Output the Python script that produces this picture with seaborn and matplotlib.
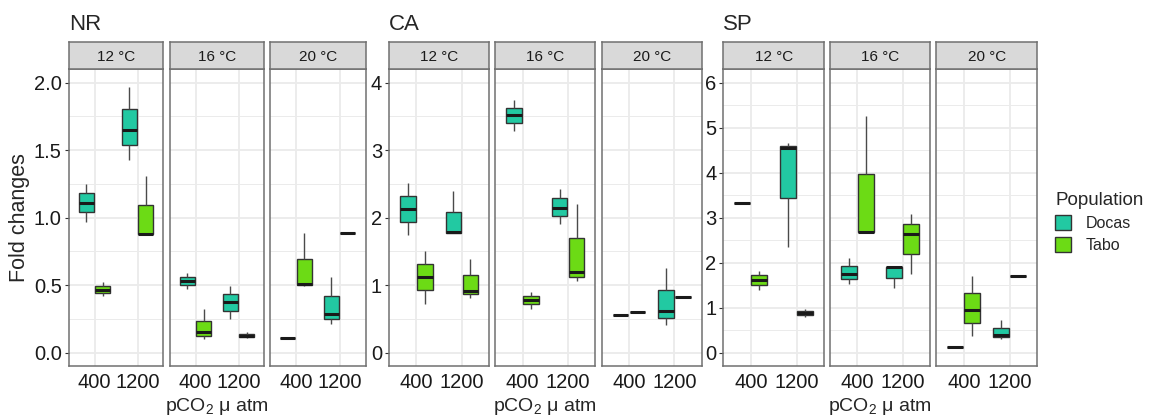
import numpy as np
import pandas as pd
import seaborn as sns
import matplotlib
matplotlib.use("Agg")
import matplotlib.pyplot as plt
from matplotlib.patches import Patch
from matplotlib.ticker import FixedLocator, MultipleLocator

# ---------------- data ----------------
sites = ["NR", "CA", "SP"]
temps = ["12 °C", "16 °C", "20 °C"]
pco2_levels = ["400", "1200"]
populations = ["Docas", "Tabo"]
# replicates per group, order: 12-400, 12-1200, 16-400, 16-1200, 20-400, 20-1200
NR_docas = [[0.97, 1.11, 1.25], [1.43, 1.65, 1.965], [0.47, 0.53, 0.59],
            [0.25, 0.373, 0.494], [0.11, 0.11, 0.11], [0.215, 0.284, 0.56]]
NR_tabo = [[0.42, 0.467, 0.52], [0.877, 0.877, 1.31], [0.10, 0.151, 0.32],
           [0.11, 0.125, 0.15], [0.49, 0.51, 0.884], [0.889, 0.889, 0.889]]
CA_docas = [[1.75, 2.13, 2.52], [1.77, 1.78, 2.39], [3.28, 3.515, 3.745],
            [1.90, 2.138, 2.43], [0.563, 0.563, 0.563], [0.405, 0.612, 1.254]]
CA_tabo = [[0.726, 1.12, 1.51], [0.815, 0.909, 1.383], [0.647, 0.785, 0.894],
           [1.062, 1.19, 2.2], [0.607, 0.607, 0.607], [0.83, 0.83, 0.83]]
SP_docas = [[3.318, 3.318, 3.318], [2.35, 4.54, 4.65], [1.53, 1.76, 2.106],
            [1.44, 1.90, 1.92], [0.118, 0.118, 0.118], [0.31, 0.384, 0.724]]
SP_tabo = [[1.397, 1.61, 1.825], [0.80, 0.89, 0.975], [2.66, 2.683, 5.255],
           [1.76, 2.646, 3.08], [0.37, 0.96, 1.707], [1.70, 1.70, 1.70]]

NR_ticks = [0.0, 0.5, 1.0, 1.5, 2.0]
NR_ticklabels = ["0.0", "0.5", "1.0", "1.5", "2.0"]
CA_ticks = [0, 1, 2, 3, 4]
CA_ticklabels = ["0", "1", "2", "3", "4"]
SP_ticks = [0, 1, 2, 3, 4, 5, 6]
SP_ticklabels = ["0", "1", "2", "3", "4", "5", "6"]

site_data = {"NR": (NR_docas, NR_tabo), "CA": (CA_docas, CA_tabo), "SP": (SP_docas, SP_tabo)}
site_ticks = {"NR": (NR_ticks, NR_ticklabels), "CA": (CA_ticks, CA_ticklabels),
              "SP": (SP_ticks, SP_ticklabels)}

rows = []
for s in sites:
    for pop, groups in zip(populations, site_data[s]):
        k = 0
        for t in temps:
            for p in pco2_levels:
                for v in groups[k]:
                    rows.append(dict(site=s, temp=t, pco2=p, pop=pop, value=v))
                k += 1
df = pd.DataFrame(rows)

# ---------------- style ----------------
sns.set_style("white")
plt.rcParams["font.family"] = ["Liberation Sans", "DejaVu Sans"]
plt.rcParams["mathtext.fontset"] = "custom"
plt.rcParams["mathtext.rm"] = "Liberation Sans"

W, H = 1158, 418
fig = plt.figure(figsize=(W / 100, H / 100), dpi=100)
fig.patch.set_facecolor("white")

palette = {"Docas": "#22C9A2", "Tabo": "#6CDB15"}
border = "#707070"
gridc = "#EBEBEB"
tick_fs = 14.5

panel_x = {
    "NR": [(68.7, 163.3), (169.7, 264.3), (270.0, 365.7)],
    "CA": [(389.0, 489.3), (495.3, 595.3), (601.7, 701.7)],
    "SP": [(723.3, 824.0), (830.0, 930.0), (936.3, 1037.0)],
}
ylims = {"NR": (-0.099, 2.099), "CA": (-0.198, 4.198), "SP": (-0.295, 6.297)}
ptop, pbot = 69.3, 366.0
stop_ = 42.3


def frac(x0, x1, y0, y1):
    return [x0 / W, 1 - y1 / H, (x1 - x0) / W, (y1 - y0) / H]


for s in sites:
    ticks, tlabels = site_ticks[s]
    step = ticks[1] - ticks[0]
    for i, t in enumerate(temps):
        x0, x1 = panel_x[s][i]
        ax = fig.add_axes(frac(x0, x1, ptop, pbot))
        sub = df[(df.site == s) & (df.temp == t)]
        sns.boxplot(data=sub, x="pco2", y="value", hue="pop", order=pco2_levels,
                    hue_order=populations, palette=palette, width=0.75, gap=0.08,
                    linecolor="#333333", linewidth=1.0, showfliers=False,
                    saturation=1, legend=False, ax=ax,
                    medianprops=dict(color="#1a1a1a", linewidth=2.2),
                    whiskerprops=dict(color="#4a4a4a", linewidth=1.0),
                    capprops=dict(linewidth=0))
        ax.set_xlim(-0.6, 1.6)
        ax.set_ylim(*ylims[s])
        ax.set_axisbelow(True)
        ax.yaxis.set_major_locator(FixedLocator(ticks))
        ax.yaxis.set_minor_locator(MultipleLocator(step / 2))
        ax.grid(True, which="major", color=gridc, linewidth=1.3)
        ax.yaxis.grid(True, which="minor", color=gridc, linewidth=0.7)
        ax.xaxis.grid(True, which="major", color=gridc, linewidth=1.3)
        for sp in ax.spines.values():
            sp.set_color(border)
            sp.set_linewidth(1.1)
            sp.set_visible(True)
        ax.set_xlabel("")
        ax.set_ylabel("")
        ax.tick_params(axis="x", which="major", length=3, width=0.8, color="#333333",
                       labelsize=tick_fs, pad=2, labelcolor="#1a1a1a")
        ax.tick_params(axis="y", which="minor", length=0)
        if i == 0:
            ax.set_yticklabels(tlabels)
            ax.tick_params(axis="y", which="major", length=3, width=0.8, color="#333333",
                           labelsize=tick_fs, pad=2, labelcolor="#1a1a1a", left=True)
        else:
            ax.tick_params(axis="y", which="major", length=0, labelleft=False)
        # strip
        sax = fig.add_axes(frac(x0, x1, stop_, ptop))
        sax.set_facecolor("#D9D9D9")
        sax.set_xticks([])
        sax.set_yticks([])
        for sp in sax.spines.values():
            sp.set_color(border)
            sp.set_linewidth(1.1)
            sp.set_visible(True)
        sax.text(0.5, 0.47, t, ha="center", va="center", fontsize=11,
                 color="#1a1a1a", transform=sax.transAxes)
        if i == 1:
            fig.text(((x0 + x1) / 2) / W, 1 - 411 / H, "pCO$_{\\mathregular{2}}$ μ atm",
                     ha="center", va="baseline", fontsize=14)
    fig.text(panel_x[s][0][0] / W, 1 - 30 / H, s, ha="left", va="baseline", fontsize=16)

fig.text(20 / W, 1 - 217.7 / H, "Fold changes", rotation=90, ha="center", va="center",
         fontsize=15.5)

handles = [Patch(facecolor=palette[p], edgecolor="#333333", linewidth=1.0, label=p)
           for p in populations]
leg = fig.legend(handles=handles, title="Population", loc="upper left",
                 bbox_to_anchor=(1041 / W, 1 - 178 / H), frameon=False,
                 fontsize=11.5, title_fontsize=13.5, handlelength=1.0, handleheight=1.1,
                 handletextpad=0.9, labelspacing=0.35, alignment="left")

fig.savefig("out.png", dpi=100, facecolor="white")
